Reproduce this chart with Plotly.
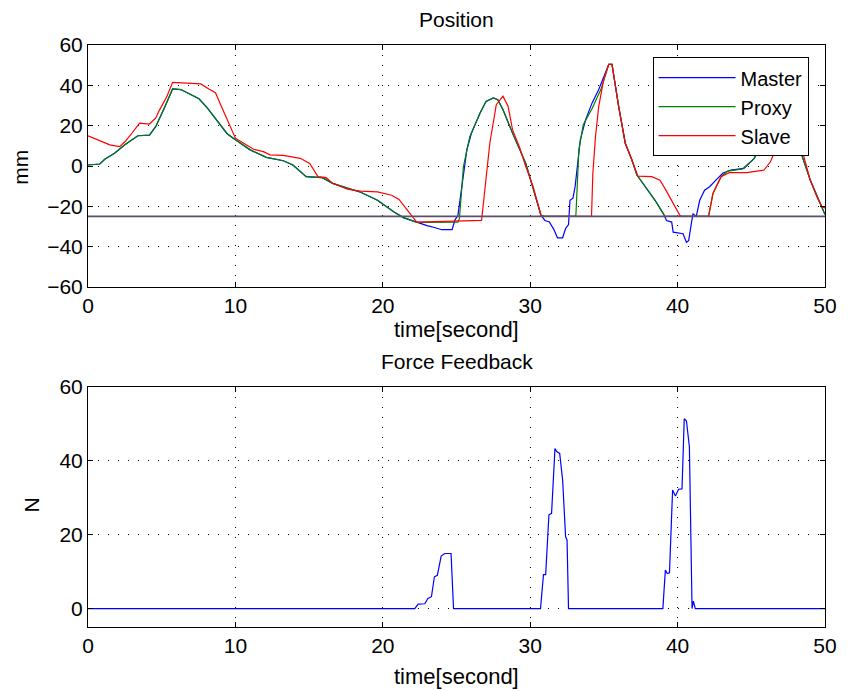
import plotly.graph_objects as go

# ---------------- data ----------------
master_t = [0, 0.8, 1.14, 1.8, 2.5, 3.38, 4.17, 4.6, 5.18, 5.74, 6.3, 6.97, 7.53, 8.09, 8.65, 9.44, 10, 11, 12.1,
            13.25, 13.9, 14.8, 15.9, 16.6, 17.6, 18.5, 19.64, 20.76, 21.4, 22.3, 23.0, 23.5, 24.0, 24.7, 24.9, 25.1,
            25.35, 25.7, 26.0, 26.6, 27.0, 27.5, 27.8, 28.15, 28.8, 29.7, 30.73, 31.0, 31.3, 31.6, 31.85, 32.2, 32.4,
            32.6, 32.7, 32.9, 33.05, 33.2, 33.4, 33.76, 34.2, 34.65, 35.1, 35.33, 35.55, 36.0, 36.45, 36.9, 37.24,
            37.8, 38.47, 39.03, 39.25, 39.6, 39.7, 40.37, 40.6, 40.75, 40.93, 41.04, 41.27, 41.5, 41.83, 42.17, 42.6,
            43.06, 43.6, 44.5, 45.2, 45.6, 46.0, 46.5, 47.0, 47.5, 47.9, 48.3, 49.0, 49.67, 50]
master_y = [0.5, 1.0, 3.3, 6.3, 10.5, 15, 15.3, 19.6, 28.8, 38.2, 37.9, 35.4, 33.3, 28.8, 23.3, 16, 13, 8, 4.3,
            2.6, 0.5, -5.3, -5.8, -8.6, -11, -13, -17, -22.8, -25.6, -28, -29.6, -30.5, -31.6, -31.6, -26.7, -24.4,
            -10.3, 8, 16, 26.3, 32, 33.8, 32.9, 28, 16.3, 1.3, -24.4, -27, -27.8, -31.4, -35.6, -35.6, -31,
            -29, -17, -16, -10, -0.3, 13, 23, 31.3, 37.9, 46.2, 50.4, 50.4, 29.6, 11.3, 3, -4.5,
            -10.3, -17, -23.6, -27, -27.8, -32.8, -33.6, -37.8, -37, -27.8, -23.6, -25, -17, -12, -10.3, -7,
            -3.6, -2, -1.2, 3.8, 9.6, 15, 20, 24, 24, 18, 8, -7, -18.5, -24]

proxy_t = [0, 0.8, 1.14, 1.8, 2.5, 3.38, 4.17, 4.6, 5.18, 5.74, 6.3, 6.97, 7.53, 8.09, 8.65, 9.44, 10, 11, 12.1,
           13.25, 13.9, 14.8, 15.9, 16.6, 17.6, 18.5, 19.64, 20.76, 21.4, 22.3, 25.1, 25.2, 25.47, 25.9, 26.6, 27.0,
           27.5, 27.8, 28.15, 28.8, 29.7, 30.73, 31.0, 33.05, 33.1, 33.3, 33.6, 34.2, 34.8, 35.33, 35.55, 36.0,
           36.45, 36.9, 37.24, 37.8, 38.47, 39.03, 39.15, 42.1, 42.4, 42.95, 43.4, 44.4, 45.2, 45.6, 46.0, 46.5,
           47.0, 47.5, 47.9, 48.3, 49.0, 49.67, 50]
proxy_y = [0.5, 1.0, 3.3, 6.3, 10.5, 15, 15.3, 19.6, 28.8, 38.2, 37.9, 35.4, 33.3, 28.8, 23.3, 16, 13, 8, 4.3,
           2.6, 0.5, -5.3, -5.8, -8.6, -11, -13, -17, -22.8, -25.6, -28, -27.8, -26, -0.3, 14.6, 26.3, 32,
           33.8, 32.9, 28, 16.3, 1.3, -24.4, -25, -25, -24.4, 8, 20.5, 28.5, 38, 50.4, 50.4, 29.6,
           11.3, 3, -4.5, -10.3, -17, -23.6, -25, -25, -13.6, -5.3, -2.5, -1.5, 3.8, 9.6, 15, 20,
           24, 24, 18, 8, -7, -18.5, -24]

slave_t = [0, 1.48, 2.15, 2.5, 2.9, 3.5, 4.17, 4.6, 4.84, 5.36, 5.74, 7.65, 8.2, 8.65, 9.0, 9.44, 10, 10.56, 11.23,
           11.9, 12.35, 13.25, 14.4, 15.04, 15.6, 16.16, 16.6, 17.6, 18.5, 19.64, 20.6, 21.1, 21.65, 22.3, 26.7,
           27.26, 27.7, 28.15, 28.5, 28.8, 29.3, 29.7, 30.2, 30.73, 30.85, 34.16, 34.25, 34.43, 34.65, 34.99, 35.33,
           35.55, 36.0, 36.45, 36.9, 37.3, 38.25, 38.8, 39.14, 39.6, 40.15, 40.3, 42.1, 42.4, 42.95, 43.5, 44.7,
           45.86, 46.3, 46.65, 47.0, 47.5, 47.9, 48.44, 49.0, 49.45, 49.8, 50]
slave_y = [15, 10.5, 9.6, 12, 15.5, 21.3, 20.8, 23.8, 27.6, 34.6, 41.5, 40.7, 38.2, 36.3, 30.4, 22.9, 13.8, 11.3, 8.3,
           7.1, 5.5, 5.3, 3.8, 1.3, -5.3, -5.8, -8.6, -11.5, -12.5, -12.8, -14.5, -16.6, -22, -27.8, -27,
           11.3, 30.4, 34.6, 29.6, 18, 8.8, -0.3, -10.3, -24.4, -25, -25, -3.6, 14.6, 29.6, 42.9, 50.4,
           50.4, 29.6, 11.3, 3, -5, -5.3, -7, -11.1, -17, -24.4, -25, -25, -13.6, -5.3, -3.3, -3.3,
           -2, 2.1, 8, 14, 16, 14, 8, -7, -15.3, -20.3, -20.8]

wall_t = [0, 50]
wall_y = [-25, -25]

force_t = [0, 5.3, 5.6, 5.9, 22.17, 22.4, 22.85, 23.06, 23.3, 23.5, 23.7, 23.96, 24.2, 24.63, 24.8, 30.7, 30.9,
           31.05, 31.27, 31.45, 31.68, 31.8, 32.0, 32.2, 32.4, 32.5, 32.6, 39.0, 39.17, 39.3, 39.45, 39.66, 39.85,
           40.07, 40.3, 40.45, 40.6, 40.8, 40.98, 41.07, 41.2, 50]
force_y = [0, 0, 0.2, 0, 0, 1.2, 1.3, 2.7, 3.2, 8.6, 9, 14.2, 14.9, 14.9, 0, 0, 9.2,
           9.2, 25.4, 25.8, 43.3, 42.5, 42, 34.8, 19.5, 18.5, 0, 0, 10.4, 9.5, 9.7, 32.1, 30.5,
           32.3, 32.4, 51.4, 50.8, 43.8, 0, 2, 0, 0]

x_ticks = [0, 10, 20, 30, 40, 50]
top_ticks = [-60, -40, -20, 0, 20, 40, 60]
bot_ticks = [0, 20, 40, 60]

# ---------------- figure ----------------
FONT = "Liberation Sans, Arial, Helvetica, sans-serif"
FS = 21
fig = go.Figure()
fig.add_trace(go.Scatter(x=master_t, y=master_y, mode="lines", name="Master",
                         line=dict(color="#0000ff", width=1.2), xaxis="x", yaxis="y"))
fig.add_trace(go.Scatter(x=proxy_t, y=proxy_y, mode="lines", name="Proxy",
                         line=dict(color="#008000", width=1.2), xaxis="x", yaxis="y"))
fig.add_trace(go.Scatter(x=slave_t, y=slave_y, mode="lines", name="Slave",
                         line=dict(color="#ff0000", width=1.2), xaxis="x", yaxis="y"))
fig.add_trace(go.Scatter(x=wall_t, y=wall_y, mode="lines", showlegend=False,
                         line=dict(color="#5b4e6c", width=1.8), xaxis="x", yaxis="y"))
fig.add_trace(go.Scatter(x=force_t, y=force_y, mode="lines", showlegend=False,
                         line=dict(color="#0000ff", width=1.2), xaxis="x2", yaxis="y2"))

axis_common = dict(showline=True, linecolor="black", linewidth=1, mirror="ticks",
                   ticks="inside", ticklen=5, tickcolor="black",
                   showgrid=True, gridcolor="black", gridwidth=1, griddash="1px,9px",
                   zeroline=False, tickfont=dict(family=FONT, size=FS, color="black"))

fig.update_layout(
    width=849, height=691,
    margin=dict(l=88, r=18, t=45, b=64),
    paper_bgcolor="white", plot_bgcolor="white",
    font=dict(family=FONT, size=FS, color="black"),
    xaxis=dict(domain=[0, 1], range=[0, 50], tickvals=x_ticks, anchor="y", **axis_common),
    yaxis=dict(domain=[0.5842, 1], range=[-60, 60], tickvals=top_ticks, anchor="x", **axis_common),
    xaxis2=dict(domain=[0, 1], range=[0, 50], tickvals=x_ticks, anchor="y2", **axis_common),
    yaxis2=dict(domain=[0, 0.4124], range=[-5, 60], tickvals=bot_ticks, anchor="x2", **axis_common),
    showlegend=True,
    legend=dict(x=0.766, y=0.979, xanchor="left", yanchor="top",
                bgcolor="white", bordercolor="black", borderwidth=1,
                font=dict(family=FONT, size=20, color="black"),
                itemwidth=77, tracegroupgap=0),
    annotations=[
        dict(text="Position", x=0.5, y=1.043, xref="paper", yref="paper", showarrow=False,
             xanchor="center", yanchor="middle", font=dict(size=FS)),
        dict(text="Force Feedback", x=0.5, y=0.457, xref="paper", yref="paper", showarrow=False,
             xanchor="center", yanchor="middle", font=dict(size=FS)),
        dict(text="time[second]", x=0.5, y=0.512, xref="paper", yref="paper", showarrow=False,
             xanchor="center", yanchor="middle", font=dict(size=22)),
        dict(text="time[second]", x=0.5, y=-0.0859, xref="paper", yref="paper", showarrow=False,
             xanchor="center", yanchor="middle", font=dict(size=22)),
        dict(text="mm", x=-0.0915, y=0.790, xref="paper", yref="paper", showarrow=False,
             xanchor="center", yanchor="middle", textangle=-90, font=dict(size=FS)),
        dict(text="N", x=-0.078, y=0.2096, xref="paper", yref="paper", showarrow=False,
             xanchor="center", yanchor="middle", textangle=-90, font=dict(size=FS)),
    ],
)

fig.write_html("out.html")
